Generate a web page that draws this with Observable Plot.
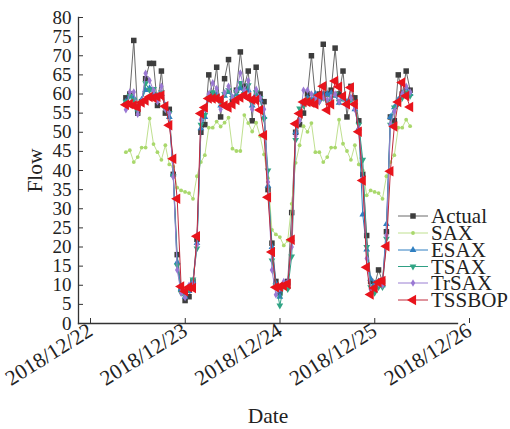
<!DOCTYPE html>
<html><head><meta charset="utf-8">
<script src="https://cdn.jsdelivr.net/npm/d3@7"></script>
<script src="https://cdn.jsdelivr.net/npm/@observablehq/plot@0.6"></script>
<style>
body{margin:0;background:#fff;}
#wrap{position:relative;width:510px;height:429px;}
#wrap svg text{font-family:"Liberation Serif","Times New Roman",serif;}
[aria-label="y-axis tick label"]{font-size:19px;}
[aria-label="x-axis tick label"]{font-size:21.5px;}
[aria-label="y-axis label"],[aria-label="x-axis label"]{font-size:21.5px;}
#legend{position:absolute;left:0;top:0;pointer-events:none;}
</style></head><body><div id="wrap"></div>
<script>
// ---- data (hourly, from 2018/12/22 12:00 to 2018/12/25 12:00) ----
const startTime = "2018/12/22 12";
const seriesNames = ["Actual", "SAX", "ESAX", "TSAX", "TrSAX", "TSSBOP"];
const xTickLabels = ["2018/12/22", "2018/12/23", "2018/12/24", "2018/12/25", "2018/12/26"];
const yTickValues = [0, 5, 10, 15, 20, 25, 30, 35, 40, 45, 50, 55, 60, 65, 70, 75, 80];

const actual = [
  59, 60, 74, 55, 58, 64, 68, 68, 57, 66, 55, 56,
  39, 18, 9, 6, 7, 11, 22, 50, 52, 65, 60, 67, 54, 64, 69, 58, 61, 71, 62, 66, 53, 67, 60, 58,
  35, 21, 11, 8, 10, 11, 29, 50, 52, 55, 60, 70, 59, 60, 73, 60, 61, 72, 60, 66, 54, 62, 59, 53,
  39, 23, 11, 10, 14, 11, 24, 54, 53, 65, 60, 66, 61
];
const sax = [
  44.8, 45.3, 42.2, 43.5, 46, 46, 53.6, 46.9, 44.8, 42.8, 46.6, 41.6,
  41, 35.5, 34.8, 34.4, 34.1, 32.6, 38.5, 42.2, 44, 51.2, 51.2, 52.8, 51.5, 52.5, 53.8, 45.7, 45.1, 45.1, 54.5, 52.4, 50.2, 52.5, 49, 44.2,
  38, 24.5, 23.3, 22.6, 20.4, 21.7, 31.3, 42, 46.6, 51.6, 50.1, 52.4, 44.8, 44.8, 42.2, 43.5, 46, 46, 53.3, 47, 45.1, 42.8, 46.6, 41.6,
  40, 33.5, 34.8, 34.4, 34.1, 32.6, 38.5, 42.2, 44, 51.2, 51.2, 53.3, 51.6
];
const esax = [
  58, 59.5, 59, 56, 58.5, 61, 61.5, 60, 59.5, 60, 57, 54,
  39, 16, 9, 7, 8.5, 11, 21, 51, 54, 59, 59.5, 60, 57, 59.5, 60.5, 59, 60, 61.5, 60, 61, 57, 60, 58.5, 54,
  36, 20, 10.5, 7, 10.5, 10.5, 22, 50, 55, 57.5, 59, 58.5, 60, 59, 60, 60, 60.3, 59.5, 57.7, 59, 58, 59, 56, 51,
  28.5, 19.3, 11.7, 10.5, 11, 10, 26, 54, 56.5, 58.5, 60, 61.5, 60
];
const tsax = [
  58, 59.5, 58.5, 55.5, 58, 62.8, 61, 61.3, 59.5, 60.5, 56, 55,
  38.5, 15.2, 8, 7, 9, 11.5, 19.6, 52, 54.5, 59, 60.5, 59.5, 57.5, 60, 61, 59, 60.5, 62.9, 60, 62.3, 57.5, 60.5, 59, 53.5,
  40, 16.5, 10, 4.7, 10, 9, 17.5, 48, 56.2, 57, 58.5, 58, 59.5, 58, 59, 58, 59, 60, 58, 58.8, 57.5, 58.5, 57, 52,
  42.8, 20, 9.5, 8, 9.5, 9.5, 22.2, 52, 56.5, 57.5, 59, 60.5, 59.5
];
const trsax = [
  55.9, 60.5, 60.5, 54.7, 58, 65.4, 63.5, 61, 58, 62, 56, 55,
  38.3, 14, 8, 6.8, 10, 10.5, 20.6, 53.3, 56, 60, 62.9, 61.4, 56, 60.3, 62, 59, 61, 65.5, 61, 63.5, 56, 61.2, 59, 56,
  37, 14, 7.5, 9, 11, 11, 20, 49, 53, 61, 61, 60, 59, 58, 59, 58.5, 59, 60, 58, 59, 57, 59, 56, 51,
  38, 17, 9, 9.5, 10.5, 10, 23, 52, 55.5, 58, 60, 62, 60.5
];
const tssbop = [
  57.2, 57.4, 57, 56.6, 57.8, 58.3, 59.2, 59, 59.3, 59.6, 56.8, 51.8,
  43.1, 32.6, 9.7, 8.4, 9.5, 9.3, 22.8, 54.9, 56.5, 58.8, 58.8, 58.8, 58.5, 57, 56.5, 57.3, 58.4, 59.1, 59.7, 59.1, 58.5, 58.4, 55.8, 49.2,
  33, 18.7, 9.5, 9.6, 9.9, 10.3, 21.9, 52.2, 54.9, 57.9, 57.9, 57.7, 57.3, 59.7, 62, 55.8, 57.3, 63.4, 61.9, 59.4, 57.3, 61.7, 57.3, 50.1,
  37.4, 14.7, 7.6, 9.3, 10.8, 11.1, 20.2, 39.8, 51.5, 57.9, 63, 59.5, 56.6
];

// ---- symbols ----
const SQ3 = Math.sqrt(3);
const triangleDown = {draw(c, size) {
  const y = -Math.sqrt(size / (SQ3 * 3));
  c.moveTo(0, -2 * y); c.lineTo(-SQ3 * y, y); c.lineTo(SQ3 * y, y); c.closePath();
}};
const triangleLeft = {draw(c, size) {
  const y = -Math.sqrt(size / (SQ3 * 3));
  c.moveTo(2 * y, 0); c.lineTo(-y, -SQ3 * y); c.lineTo(-y, SQ3 * y); c.closePath();
}};

const styles = {
  Actual: {line: "#6a6a6a", fill: "#3d3d3d", symbol: "square", r: 3.1},
  SAX:    {line: "#bfe08f", fill: "#a9d86c", symbol: "circle", r: 1.9},
  ESAX:   {line: "#2f7fc1", fill: "#2f7fc1", symbol: "triangle", r: 2.5},
  TSAX:   {line: "#2f9f84", fill: "#31a585", symbol: triangleDown, r: 2.5},
  TrSAX:  {line: "#9a7fd2", fill: "#9a78d3", symbol: "diamond", r: 2.3},
  TSSBOP: {line: "#c02a3c", fill: "#e8141c", symbol: triangleLeft, r: 3.9}
};

const parseTick = d3.utcParse("%Y/%m/%d");
const parseStart = d3.utcParse("%Y/%m/%d %H");
const start = parseStart(startTime);
const xTickDates = xTickLabels.map(parseTick);
const valuesBySeries = {Actual: actual, SAX: sax, ESAX: esax, TSAX: tsax, TrSAX: trsax, TSSBOP: tssbop};

const rows = [];
for (const name of seriesNames) {
  valuesBySeries[name].forEach((v, i) => rows.push({series: name, date: d3.utcHour.offset(start, i), value: v}));
}

const seriesMarks = [];
for (const name of seriesNames) {
  const d = rows.filter(r => r.series === name);
  const s = styles[name];
  seriesMarks.push(Plot.line(d, {x: "date", y: "value", stroke: s.line, strokeWidth: 1}));
  seriesMarks.push(Plot.dot(d, {x: "date", y: "value", symbol: () => s.symbol, r: s.r, fill: s.fill, stroke: "none"}));
}

const chart = Plot.plot({
  width: 510, height: 429,
  marginLeft: 78, marginRight: 53, marginTop: 17, marginBottom: 106,
  style: {fontFamily: "Liberation Serif, serif", fontSize: "19px", color: "#222", background: "#fff"},
  x: {type: "utc", domain: [xTickDates[0], xTickDates[xTickDates.length - 1]]},
  y: {domain: [0, 80]},
  symbol: {type: "identity"},
  marks: [
    ...seriesMarks,
    Plot.frame({anchor: "left", stroke: "#333", strokeWidth: 1.3}),
    Plot.frame({anchor: "bottom", stroke: "#333", strokeWidth: 1.3}),
    Plot.axisY({ticks: yTickValues, tickSize: 5, insetLeft: 5, tickPadding: 7, stroke: "#333",
      label: "Flow", labelAnchor: "center", labelArrow: "none", labelOffset: 52}),
    Plot.axisX({ticks: xTickDates, tickFormat: d => xTickLabels[xTickDates.findIndex(t => +t === +d)],
      tickSize: 5, insetBottom: 5, tickPadding: 5, tickRotate: -32, dx: 12, stroke: "#333",
      label: "Date", labelAnchor: "center", labelArrow: "none", labelOffset: 99})
  ]
});
const wrap = document.getElementById("wrap");
wrap.appendChild(chart);

// ---- legend (inside plot area, right) ----
const leg = d3.select(wrap).append("svg").attr("id", "legend").attr("width", 510).attr("height", 429);
const rowY = [216, 233, 250, 266.5, 283, 300];
seriesNames.forEach((name, i) => {
  const s = styles[name];
  const g = leg.append("g").attr("transform", `translate(0,${rowY[i]})`);
  g.append("line").attr("x1", 398).attr("x2", 428).attr("y1", 0).attr("y2", 0).attr("stroke", s.line).attr("stroke-width", 1);
  const sym = typeof s.symbol === "string" ? {square: d3.symbolSquare, circle: d3.symbolCircle, triangle: d3.symbolTriangle, diamond: d3.symbolDiamond}[s.symbol] : s.symbol;
  g.append("path").attr("transform", "translate(413,0)").attr("d", d3.symbol(sym, Math.PI * s.r * s.r)()).attr("fill", s.fill);
  g.append("text").attr("x", 431).attr("y", 0).attr("dy", "0.35em").attr("font-size", 21).attr("fill", "#222").text(name);
});
</script></body></html>
